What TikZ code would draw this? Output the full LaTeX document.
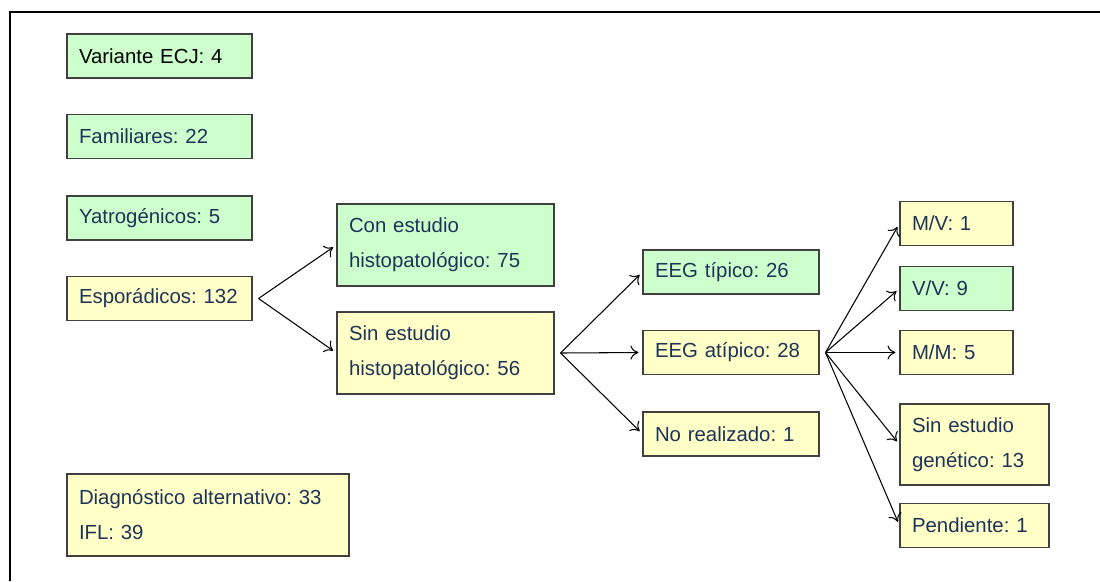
\documentclass[tikz,border=0pt]{standalone}
\usepackage{fontspec}
\setmainfont{Liberation Sans}
\usepackage{xcolor}
\usepackage{tikz}
\usetikzlibrary{arrows.meta,positioning}
\frenchspacing
\definecolor{boxgreen}{HTML}{CCFFCC}
\definecolor{boxyellow}{HTML}{FFFFC8}
\definecolor{boxtext}{HTML}{1F3358}
\definecolor{boxline}{HTML}{404040}
\tikzset{
  box/.style={draw=boxline, line width=0.6pt, rectangle, align=left, text=boxtext,
    font=\fontsize{11.6}{19.9}\selectfont, inner xsep=0.24cm, inner ysep=0pt,
    minimum height=0.88cm},
  green/.style={box, fill=boxgreen},
  yellow/.style={box, fill=boxyellow},
  arr/.style={-{To[length=1.6mm,width=2.8mm]}, line width=0.6pt, shorten >=0.08cm},
  frame/.style={line width=1.3pt}
}

\begin{document}
\begin{tikzpicture}
\useasboundingbox (0,0) rectangle (22,-11.62);
\draw[frame] (0.2,-11.62) -- (0.2,-0.24) -- (22,-0.24);

\node[green,text width=3.22cm,text=black] (ecj) at (3.19,-1.12) {Variante ECJ: 4};
\node[green,text width=3.22cm] (fam) at (3.19,-2.73) {Familiares: 22};
\node[green,text width=3.22cm] (yat) at (3.19,-4.36) {Yatrogénicos: 5};
\node[yellow,text width=3.22cm] (esp) at (3.19,-5.97) {Esporádicos: 132};

\node[green,text width=3.86cm,minimum height=1.64cm] (con) at (8.91,-4.90) {Con estudio\\histopatológico: 75};
\node[yellow,text width=3.86cm,minimum height=1.64cm] (sin) at (8.91,-7.06) {Sin estudio\\histopatológico: 56};

\node[green,text width=3.04cm] (tip) at (14.62,-5.44) {EEG típico: 26};
\node[yellow,text width=3.04cm] (atip) at (14.62,-7.05) {EEG atípico: 28};
\node[yellow,text width=3.04cm] (nor) at (14.62,-8.68) {No realizado: 1};

\node[yellow,text width=1.78cm] (mv) at (19.13,-4.47) {M/V: 1};
\node[green,text width=1.78cm] (vv) at (19.13,-5.77) {V/V: 9};
\node[yellow,text width=1.78cm] (mm) at (19.13,-7.05) {M/M: 5};
\node[yellow,text width=2.50cm,minimum height=1.62cm] (sgen) at (19.49,-8.89) {Sin estudio\\genético: 13};
\node[yellow,text width=2.50cm] (pend) at (19.49,-10.51) {Pendiente: 1};

\node[yellow,text width=5.16cm,minimum height=1.64cm] (alt) at (4.16,-10.30) {Diagnóstico alternativo: 33\\IFL: 39};

% branching points
\coordinate[right=0.12cm of esp.east] (fkesp);
\coordinate[right=0.12cm of sin.east] (fksin);
\coordinate[right=0.12cm of atip.east] (fkatip);

\draw[arr] (fkesp) -- (con.west);
\draw[arr] (fkesp) -- (sin.west);
\draw[arr] (fksin) -- (tip.west);
\draw[arr] (fksin) -- (atip.west);
\draw[arr] (fksin) -- (nor.west);
\draw[arr] (fkatip) -- (mv.west);
\draw[arr] (fkatip) -- (vv.west);
\draw[arr] (fkatip) -- (mm.west);
\draw[arr] (fkatip) -- (sgen.west);
\draw[arr] (fkatip) -- (pend.west);
\end{tikzpicture}
\end{document}
